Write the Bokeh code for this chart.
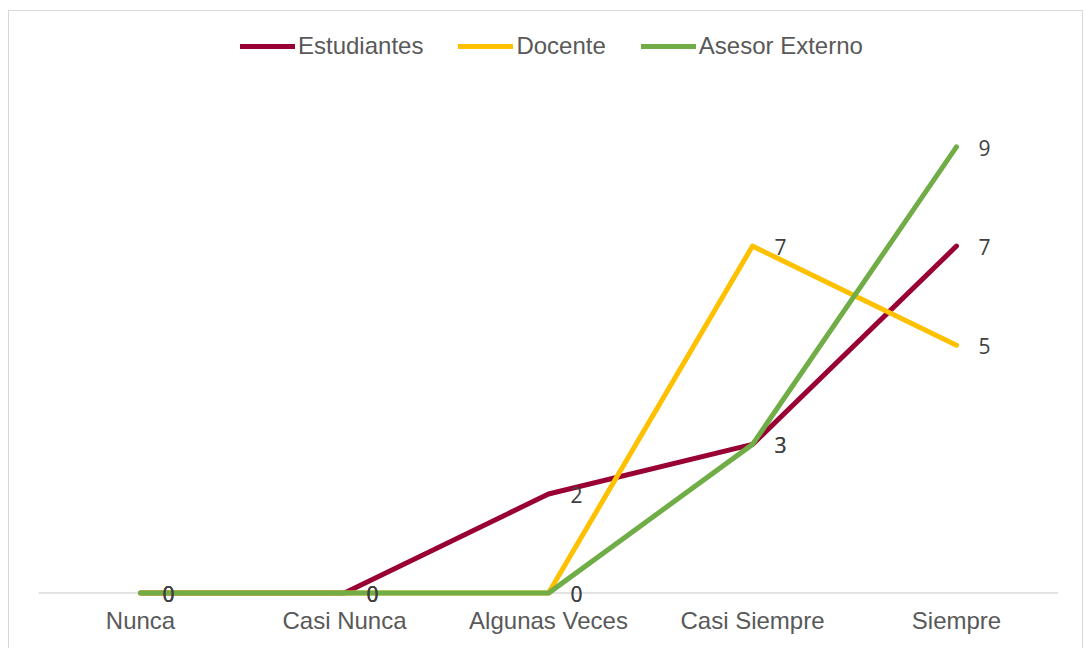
from bokeh.plotting import figure
from bokeh.models import FactorRange, Range1d, Legend, LegendItem, ColumnDataSource, Span
from bokeh.core.properties import value
from bokeh.embed import file_html
from bokeh.resources import INLINE

categories = ["Nunca", "Casi Nunca", "Algunas Veces", "Casi Siempre", "Siempre"]
estudiantes = [0, 0, 2, 3, 7]
docente = [0, 0, 0, 7, 5]
asesor = [0, 0, 0, 3, 9]
series_names = ["Estudiantes", "Docente", "Asesor Externo"]
series_colors = ["#990033", "#FFC000", "#70AD47"]

p = figure(width=1075, height=640, output_backend="svg", toolbar_location=None,
           x_range=FactorRange(factors=categories, range_padding=0),
           y_range=Range1d(-0.25, 11.55))
p.margin = (10, 2, 0, 8)
p.styles = {"border": "1px solid #D9D9D9"}
p.min_border_left = 29
p.min_border_right = 26
p.min_border_top = 9
p.min_border_bottom = 46
p.outline_line_color = None
p.background_fill_color = "white"
p.border_fill_color = "white"
p.grid.visible = False
p.yaxis.visible = False

xa = p.xaxis[0]
xa.axis_line_color = None
xa.major_tick_line_color = None
xa.minor_tick_line_color = None
xa.major_label_text_font = "Liberation Sans"
xa.major_label_text_font_size = "24px"
xa.major_label_text_color = "#595959"
xa.major_label_standoff = -5

p.add_layout(Span(location=0, dimension="width", line_color="#D9D9D9",
                  line_width=1.5, level="underlay"))

items = []
for name, vals, col in zip(series_names, [estudiantes, docente, asesor], series_colors):
    src = ColumnDataSource(dict(x=categories, y=vals))
    r = p.line("x", "y", source=src, line_color=col, line_width=5,
               line_cap="round", line_join="round")
    items.append(LegendItem(label=name, renderers=[r]))

for vals in [estudiantes, docente, asesor]:
    src = ColumnDataSource(dict(x=categories, y=vals, t=[str(v) for v in vals]))
    p.text("x", "y", text="t", source=src, x_offset=28, y_offset=1,
           text_align="center", text_baseline="middle",
           text_font=value("Open Sans"), text_font_size="21px", text_color="#404040")

legend = Legend(items=items, orientation="horizontal", location=(202, 545),
                glyph_width=55, glyph_height=20, label_standoff=3, spacing=35,
                padding=0, margin=0, border_line_color=None, background_fill_alpha=0,
                label_text_font="Liberation Sans", label_text_font_size="24px",
                label_text_color="#595959")
p.add_layout(legend, "center")

open("out.html", "w").write(file_html(p, INLINE))
